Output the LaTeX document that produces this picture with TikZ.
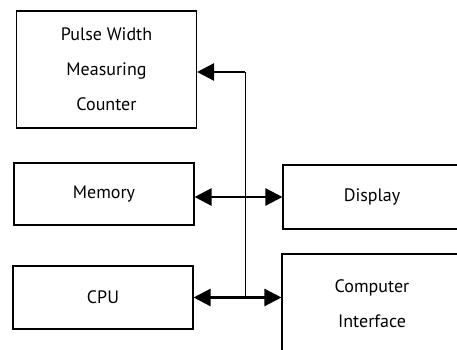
\documentclass[tikz,border=0pt]{standalone}
\usepackage{fontspec}
\setmainfont{PT Sans}
\usetikzlibrary{positioning,calc,arrows.meta}

\begin{document}
\begin{tikzpicture}[x=1pt,y=1pt,
                unit/.style={draw,line width=1.1pt,minimum width=180pt,
                             align=center,inner sep=0pt,
                             font=\fontsize{18}{35}\selectfont},
                bus/.style={line width=2.5pt,{Triangle[length=17pt,width=17pt]}-{Triangle[length=17pt,width=17pt]}},
                feed/.style={line width=2.5pt,-{Triangle[length=17pt,width=17pt]}}
            ]
                \useasboundingbox (0,0) rectangle (457,350);
                \clip (0,0) rectangle (457,350);
                % units on the left
                \node[unit,minimum height=117pt] (pwm) at (106.5,280.5) {Pulse Width\\Measuring\\Counter};
                \node[unit,minimum height=62pt] (mem) at (104,156) {Memory};
                \node[unit,minimum height=63pt] (cpu) at (103,52.5) {CPU};
                % units on the right
                \node[unit,minimum width=178pt,minimum height=64pt] (disp) at (372,153) {Display};
                \node[unit,minimum width=180pt,minimum height=100pt] (ci) at (372,46) {Computer\\Interface};
                % bus
                \coordinate (top) at (245,278);
                \coordinate (bot) at (245,53);
                \draw[line width=1pt] (top) -- (bot);
                \draw[feed] (top) -- (top -| pwm.east);
                \draw[bus] (disp.west -| mem.east) -- (disp.west);
                \draw[bus] (cpu.east) -- (cpu.east -| ci.west);
            \end{tikzpicture}
\end{document}
